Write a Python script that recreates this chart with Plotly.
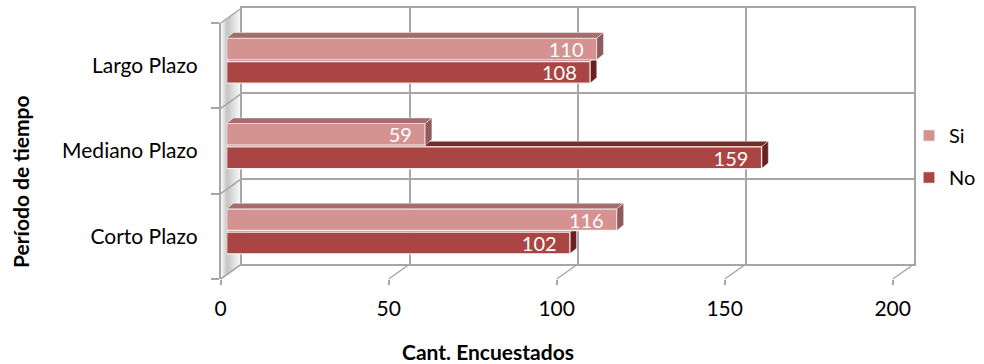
import plotly.graph_objects as go

# ---- data -------------------------------------------------------------
categories = ["Corto Plazo", "Mediano Plazo", "Largo Plazo"]
si_values = [116, 59, 110]
no_values = [102, 159, 108]
x_ticks = [0, 50, 100, 150, 200]
series_names = ["Si", "No"]
x_title = "Cant. Encuestados"
y_title = "Período de tiempo"

# ---- styling / geometry -----------------------------------------------
W, H = 984, 364
FONT = "Lato"
GRID = "#a6a6a6"
SI_COLOR, SI_TOP, SI_SIDE = "#d49291", "#a46c6d", "#8e5a5b"
NO_COLOR, NO_TOP, NO_SIDE = "#a94643", "#7d2b29", "#6a2020"
XMAX = 200

# pseudo-3D box, in pixels: front plane, back wall, plane of the bars
FRONT = dict(x0=220.7, x1=892.7, y0=23.0, y1=279.0)
BACK = dict(x0=241.7, x1=914.3, y0=8.0, y1=264.0)
BARS = dict(x0=226.7, x1=899.5, y0=18.0, y1=274.0)

BAR_W = 0.254        # thickness of one bar (category units)
BAR_GAP = 0.01       # half gap between the two bars of a category
DX, DY = 2.0, 0.065  # depth of the bar top / side faces (data units)


def dom_x(p):
    return [p["x0"] / W, p["x1"] / W]


def dom_y(p):
    return [1 - p["y1"] / H, 1 - p["y0"] / H]


n = len(categories)
pos = list(range(n))

fig = go.Figure()

# ---- layer 1: side wall and floor edges (pixel space) -----------------
fig.add_trace(go.Scatter(
    x=[FRONT["x0"], BACK["x0"], BACK["x0"], FRONT["x0"], FRONT["x0"]],
    y=[FRONT["y0"], BACK["y0"], BACK["y1"], FRONT["y1"], FRONT["y0"]],
    mode="lines", line=dict(width=0), fill="toself",
    fillgradient=dict(type="horizontal",
                      colorscale=[[0, "#ffffff"], [0.3, "#c4c4c4"],
                                  [0.65, "#e2e2e2"], [1, "#ffffff"]]),
    hoverinfo="skip", showlegend=False, xaxis="x", yaxis="y"))

ex, ey = [], []
for v in x_ticks:
    ex += [FRONT["x0"] + v / XMAX * (FRONT["x1"] - FRONT["x0"]),
           BACK["x0"] + v / XMAX * (BACK["x1"] - BACK["x0"]), None]
    ey += [FRONT["y1"], BACK["y1"], None]
for k in range(n + 1):
    ex += [FRONT["x0"], BACK["x0"], None]
    ey += [FRONT["y1"] - k * (FRONT["y1"] - FRONT["y0"]) / n,
           BACK["y1"] - k * (BACK["y1"] - BACK["y0"]) / n, None]
fig.add_trace(go.Scatter(x=ex, y=ey, mode="lines",
                         line=dict(color=GRID, width=1.5),
                         hoverinfo="skip", showlegend=False,
                         xaxis="x", yaxis="y"))

# ---- layer 2: back wall grid ------------------------------------------
fig.add_trace(go.Scatter(x=[None], y=[None], xaxis="x2", yaxis="y2",
                         showlegend=False, hoverinfo="skip"))

# ---- layer 3: front axes (tick labels) --------------------------------
fig.add_trace(go.Scatter(x=[None] * n, y=categories, xaxis="x3", yaxis="y3",
                         mode="markers", showlegend=False, hoverinfo="skip"))


# ---- faces of the bars ------------------------------------------------
def add_faces(values, lo_off, hi_off, top_col, side_col, xa, ya):
    for c, v in zip(pos, values):
        lo, hi = c + lo_off, c + hi_off
        fig.add_trace(go.Scatter(
            x=[0, v, v + DX, DX, 0], y=[hi, hi, hi + DY, hi + DY, hi],
            mode="lines", fill="toself", fillcolor=top_col,
            line=dict(color="rgba(255,255,255,0.55)", width=0.8),
            hoverinfo="skip", showlegend=False, xaxis=xa, yaxis=ya))
        fig.add_trace(go.Scatter(
            x=[v, v + DX, v + DX, v, v], y=[hi, hi + DY, lo + DY, lo, hi],
            mode="lines", fill="toself", fillcolor=side_col,
            line=dict(color="rgba(255,255,255,0.55)", width=0.8),
            hoverinfo="skip", showlegend=False, xaxis=xa, yaxis=ya))


# "No" faces sit underneath the bars layer
add_faces(no_values, -BAR_GAP - BAR_W, -BAR_GAP, NO_TOP, NO_SIDE, "x4", "y4")

# ---- layer 5: bars ----------------------------------------------------
label_pad = "\u00a0\u00a0"
for name, vals, col, off in [
        (series_names[0], si_values, SI_COLOR, BAR_GAP),
        (series_names[1], no_values, NO_COLOR, -BAR_GAP - BAR_W)]:
    fig.add_trace(go.Bar(
        name=name, x=vals, y=pos, orientation="h",
        width=BAR_W, offset=off,
        marker=dict(color=col, line=dict(color="rgba(255,255,255,0.85)", width=1.3)),
        texttemplate="%{x}" + label_pad, textposition="inside",
        insidetextanchor="end", constraintext="none",
        insidetextfont=dict(color="white", size=20, family=FONT),
        legendgroup=name, xaxis="x5", yaxis="y5", hoverinfo="x+name"))

add_faces(si_values, BAR_GAP, BAR_GAP + BAR_W, SI_TOP, SI_SIDE, "x5", "y5")

hidden = dict(visible=False, showgrid=False, zeroline=False, fixedrange=True)

fig.update_layout(
    width=W, height=H,
    margin=dict(l=0, r=0, t=0, b=0, autoexpand=False),
    paper_bgcolor="white", plot_bgcolor="rgba(0,0,0,0)",
    font=dict(family=FONT, size=21, color="#000000"),
    barmode="overlay",
    showlegend=True,
    legend=dict(x=909 / W, xanchor="left", y=1 - 116 / H, yanchor="top",
                font=dict(size=20, family=FONT), tracegroupgap=13,
                traceorder="grouped", itemwidth=30, bgcolor="rgba(0,0,0,0)"),
    # pixel-space overlay
    xaxis=dict(domain=[0, 1], range=[0, W], anchor="y", **hidden),
    yaxis=dict(domain=[0, 1], range=[H, 0], anchor="x", **hidden),
    # back wall
    xaxis2=dict(domain=dom_x(BACK), range=[0, XMAX], anchor="y2",
                tickvals=x_ticks, showticklabels=False, ticks="",
                showgrid=True, gridcolor=GRID, gridwidth=1.5, zeroline=False,
                showline=True, mirror=True, linecolor=GRID, linewidth=1.5),
    yaxis2=dict(domain=dom_y(BACK), range=[0, n], anchor="x2",
                dtick=1, showticklabels=False, ticks="",
                showgrid=True, gridcolor=GRID, gridwidth=1.5, zeroline=False,
                showline=True, mirror=True, linecolor=GRID, linewidth=1.5),
    # front axes with the labels
    xaxis3=dict(domain=dom_x(FRONT), range=[0, XMAX], anchor="y3",
                tickvals=x_ticks, ticks="outside", ticklen=5, tickwidth=1.5,
                tickcolor=GRID, showgrid=False, zeroline=False, showline=False,
                ticklabelstandoff=6, tickfont=dict(size=21)),
    yaxis3=dict(domain=dom_y(FRONT), type="category",
                categoryorder="array", categoryarray=categories,
                range=[-0.5, n - 0.5], anchor="x3",
                tickson="boundaries", ticks="outside", ticklen=8, tickwidth=1.5,
                tickcolor=GRID, showgrid=False, zeroline=False,
                showline=True, linecolor=GRID, linewidth=1.5,
                ticklabelstandoff=17, tickfont=dict(size=21)),
    # bar plane (two stacked layers)
    xaxis4=dict(domain=dom_x(BARS), range=[0, XMAX], anchor="y4", **hidden),
    yaxis4=dict(domain=dom_y(BARS), range=[-0.5, n - 0.5], anchor="x4", **hidden),
    xaxis5=dict(domain=dom_x(BARS), range=[0, XMAX], anchor="y5", **hidden),
    yaxis5=dict(domain=dom_y(BARS), range=[-0.5, n - 0.5], anchor="x5", **hidden),
    annotations=[
        dict(text="<b>" + x_title + "</b>", x=488 / W, y=1 - 351 / H,
             xref="paper", yref="paper", xanchor="center", yanchor="middle",
             showarrow=False, font=dict(size=21, family=FONT)),
        dict(text="<b>" + y_title + "</b>", x=20 / W, y=1 - 182 / H,
             xref="paper", yref="paper", xanchor="center", yanchor="middle",
             showarrow=False, textangle=-90, font=dict(size=21, family=FONT)),
    ],
)

fig.write_html("out.html")
